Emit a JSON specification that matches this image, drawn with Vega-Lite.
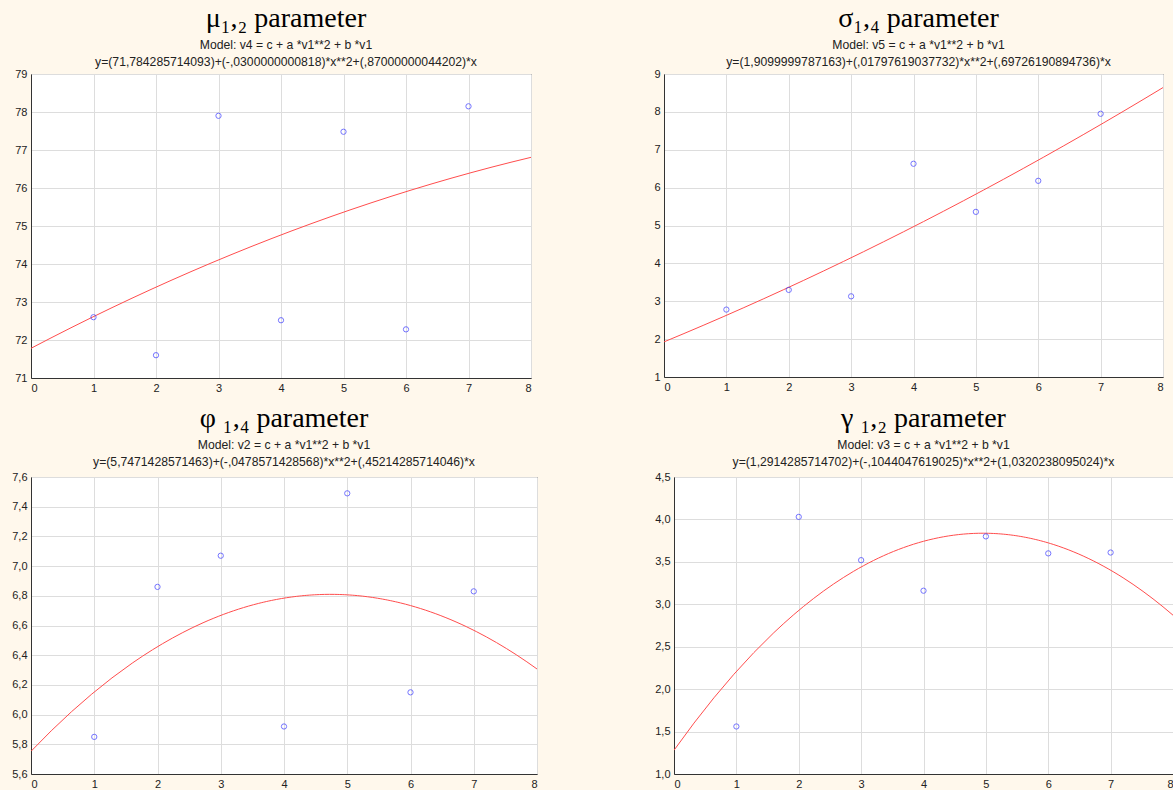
{
  "$schema": "https://vega.github.io/schema/vega-lite/v6.json",
  "background": "#FFF8EC",
  "padding": {"left": 11, "top": 4, "right": 0, "bottom": 0},
  "config": {
    "view": {"stroke": "#333333", "strokeWidth": 1, "fill": "#ffffff"},
    "axis": {"labelFont": "Liberation Sans", "labelFontSize": 11, "labelColor": "#222222", "domainColor": "#333333", "gridColor": "#dddddd", "ticks": false, "labelPadding": 4, "labelOverlap": false, "title": null},
    "title": {"font": "Liberation Serif", "fontSize": 28, "fontWeight": "normal", "color": "#000000", "subtitleFont": "Liberation Sans", "subtitleFontSize": 12.2, "subtitleColor": "#222222", "subtitleLineHeight": 17, "subtitlePadding": 6, "offset": 0, "anchor": "middle"}
  },
  "datasets": {
    "mu": [{"x": 1, "y": 72.6}, {"x": 2, "y": 71.6}, {"x": 3, "y": 77.9}, {"x": 4, "y": 72.52}, {"x": 5, "y": 77.48}, {"x": 6, "y": 72.28}, {"x": 7, "y": 78.15}],
    "sigma": [{"x": 1, "y": 2.78}, {"x": 2, "y": 3.3}, {"x": 3, "y": 3.13}, {"x": 4, "y": 6.63}, {"x": 5, "y": 5.36}, {"x": 6, "y": 6.18}, {"x": 7, "y": 7.95}],
    "phi": [{"x": 1, "y": 5.85}, {"x": 2, "y": 6.86}, {"x": 3, "y": 7.07}, {"x": 4, "y": 5.92}, {"x": 5, "y": 7.49}, {"x": 6, "y": 6.15}, {"x": 7, "y": 6.83}],
    "gamma": [{"x": 1, "y": 1.56}, {"x": 2, "y": 4.03}, {"x": 3, "y": 3.52}, {"x": 4, "y": 3.16}, {"x": 5, "y": 3.8}, {"x": 6, "y": 3.6}, {"x": 7, "y": 3.61}]
  },
  "vconcat": [
    {
      "spacing": 121,
      "hconcat": [
        {
          "width": 500, "height": 304,
          "title": {"text": "μ₁,₂ parameter", "offset": 0, "dx": 5, "subtitle": ["Model: v4 = c + a *v1**2 + b *v1", "y=(71,784285714093)+(-,0300000000818)*x**2+(,87000000044202)*x"]},
          "data": {"name": "mu"},
          "encoding": {
            "x": {"field": "x", "type": "quantitative", "scale": {"domain": [0, 8], "nice": false, "zero": false}, "axis": {"values": [0, 1, 2, 3, 4, 5, 6, 7, 8], "format": "d", "title": null}},
            "y": {"field": "y", "type": "quantitative", "scale": {"domain": [71, 79], "nice": false, "zero": false}, "axis": {"values": [71, 72, 73, 74, 75, 76, 77, 78, 79], "format": "d", "title": null}}
          },
          "layer": [
            {
              "transform": [{"regression": "y", "on": "x", "method": "poly", "order": 2, "extent": [0, 8]}],
              "mark": {"type": "line", "color": "#ff4d4d", "strokeWidth": 1, "clip": true}
            },
            {
              "mark": {"type": "point", "shape": "circle", "filled": false, "color": "#3b3bff", "size": 28, "strokeWidth": 1}
            }
          ]
        },
        {
          "width": 499, "height": 303,
          "title": {"text": "σ₁,₄ parameter", "offset": 0, "dx": 5, "subtitle": ["Model: v5 = c + a *v1**2 + b *v1", "y=(1,9099999787163)+(,01797619037732)*x**2+(,69726190894736)*x"]},
          "data": {"name": "sigma"},
          "encoding": {
            "x": {"field": "x", "type": "quantitative", "scale": {"domain": [0, 8], "nice": false, "zero": false}, "axis": {"values": [0, 1, 2, 3, 4, 5, 6, 7, 8], "format": "d", "title": null}},
            "y": {"field": "y", "type": "quantitative", "scale": {"domain": [1, 9], "nice": false, "zero": false}, "axis": {"values": [1, 2, 3, 4, 5, 6, 7, 8, 9], "format": "d", "title": null}}
          },
          "layer": [
            {
              "transform": [{"regression": "y", "on": "x", "method": "poly", "order": 2, "extent": [0, 8]}],
              "mark": {"type": "line", "color": "#ff4d4d", "strokeWidth": 1, "clip": true}
            },
            {
              "mark": {"type": "point", "shape": "circle", "filled": false, "color": "#3b3bff", "size": 28, "strokeWidth": 1}
            }
          ]
        }
      ]
    },
    {
      "spacing": 116,
      "hconcat": [
        {
          "width": 506, "height": 297,
          "title": {"text": "φ ₁,₄ parameter", "offset": 3, "subtitle": ["Model: v2 = c + a *v1**2 + b *v1", "y=(5,7471428571463)+(-,0478571428568)*x**2+(,45214285714046)*x"]},
          "data": {"name": "phi"},
          "encoding": {
            "x": {"field": "x", "type": "quantitative", "scale": {"domain": [0, 8], "nice": false, "zero": false}, "axis": {"values": [0, 1, 2, 3, 4, 5, 6, 7, 8], "format": "d", "title": null}},
            "y": {"field": "y", "type": "quantitative", "scale": {"domain": [5.6, 7.6], "nice": false, "zero": false}, "axis": {"values": [5.6, 5.8, 6.0, 6.2, 6.4, 6.6, 6.8, 7.0, 7.2, 7.4, 7.6], "labelExpr": "replace(format(datum.value, '.1f'), '.', ',')", "title": null}}
          },
          "layer": [
            {
              "transform": [{"regression": "y", "on": "x", "method": "poly", "order": 2, "extent": [0, 8]}],
              "mark": {"type": "line", "color": "#ff4d4d", "strokeWidth": 1, "clip": true}
            },
            {
              "mark": {"type": "point", "shape": "circle", "filled": false, "color": "#3b3bff", "size": 28, "strokeWidth": 1}
            }
          ]
        },
        {
          "width": 499, "height": 297,
          "title": {"text": "γ ₁,₂ parameter", "offset": 3, "subtitle": ["Model: v3 = c + a *v1**2 + b *v1", "y=(1,2914285714702)+(-,1044047619025)*x**2+(1,0320238095024)*x"]},
          "data": {"name": "gamma"},
          "encoding": {
            "x": {"field": "x", "type": "quantitative", "scale": {"domain": [0, 8], "nice": false, "zero": false}, "axis": {"values": [0, 1, 2, 3, 4, 5, 6, 7, 8], "format": "d", "title": null}},
            "y": {"field": "y", "type": "quantitative", "scale": {"domain": [1, 4.5], "nice": false, "zero": false}, "axis": {"values": [1, 1.5, 2, 2.5, 3, 3.5, 4, 4.5], "labelExpr": "replace(format(datum.value, '.1f'), '.', ',')", "title": null}}
          },
          "layer": [
            {
              "transform": [{"regression": "y", "on": "x", "method": "poly", "order": 2, "extent": [0, 8]}],
              "mark": {"type": "line", "color": "#ff4d4d", "strokeWidth": 1, "clip": true}
            },
            {
              "mark": {"type": "point", "shape": "circle", "filled": false, "color": "#3b3bff", "size": 28, "strokeWidth": 1}
            }
          ]
        }
      ]
    }
  ],
  "spacing": 10
}
